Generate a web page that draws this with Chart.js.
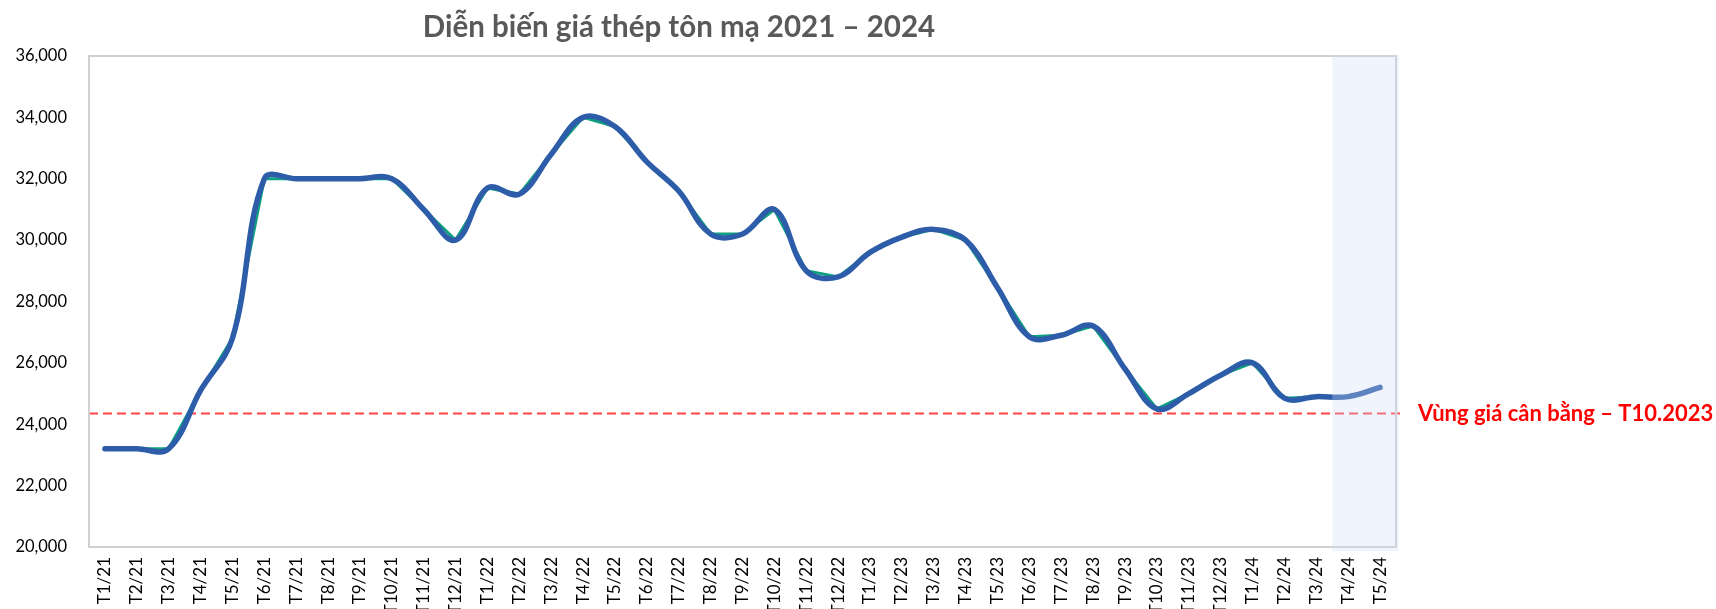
<!DOCTYPE html>
<html>
<head>
<meta charset="utf-8">
<script src="https://cdn.jsdelivr.net/npm/chart.js@4/dist/chart.umd.min.js"></script>
<style>
  html, body { margin: 0; padding: 0; background: #ffffff; }
  #wrap { width: 1716px; height: 609px; position: relative; }
</style>
</head>
<body>
<div id="wrap"><canvas id="c" width="1716" height="609"></canvas></div>
<script>
// ---- data ----
const categories = [
  'T1/21','T2/21','T3/21','T4/21','T5/21','T6/21','T7/21','T8/21','T9/21','T10/21','T11/21','T12/21',
  'T1/22','T2/22','T3/22','T4/22','T5/22','T6/22','T7/22','T8/22','T9/22','T10/22','T11/22','T12/22',
  'T1/23','T2/23','T3/23','T4/23','T5/23','T6/23','T7/23','T8/23','T9/23','T10/23','T11/23','T12/23',
  'T1/24','T2/24','T3/24','T4/24','T5/24'
];
const prices = [
  23200, 23200, 23200, 25100, 26800, 32000, 32000, 32000, 32000, 32000, 31000, 30000,
  31700, 31500, 32800, 34000, 33700, 32550, 31600, 30200, 30200, 31000, 29000, 28800,
  29600, 30100, 30350, 30000, 28450, 26850, 26900, 27200, 25800, 24500, 25000, 25600,
  26000, 24850, 24900, 24900, 25200
];
const yTicks = [20000, 22000, 24000, 26000, 28000, 30000, 32000, 34000, 36000];
const balanceValue = 24350;
const balanceLabel = 'Vùng giá cân bằng – T10.2023';
const titleText = 'Diễn biến giá thép tôn mạ 2021 – 2024';
const highlightFrom = 'T4/24';

const FONT = "Lato, 'Open Sans', sans-serif";

const decorPlugin = {
  id: 'decor',
  beforeDatasetsDraw(chart) {
    const {ctx, chartArea, scales} = chart;
    const y = scales.y.getPixelForValue(balanceValue);
    ctx.save();
    ctx.strokeStyle = '#FF4444';
    ctx.lineWidth = 1.8;
    ctx.setLineDash([9, 5]);
    ctx.beginPath();
    ctx.moveTo(chartArea.left, y);
    ctx.lineTo(chartArea.right + 4, y);
    ctx.stroke();
    ctx.restore();
  },
  afterDatasetsDraw(chart) {
    const {ctx, chartArea, scales} = chart;
    const x = scales.x;
    const idx = categories.indexOf(highlightFrom);
    const left = (x.getPixelForTick(idx - 1) + x.getPixelForTick(idx)) / 2;
    ctx.save();
    // plot border
    ctx.strokeStyle = '#D0D0D0';
    ctx.lineWidth = 2;
    ctx.strokeRect(chartArea.left, chartArea.top, chartArea.right - chartArea.left, chartArea.bottom - chartArea.top);
    // highlight band
    ctx.fillStyle = 'rgba(205, 218, 245, 0.3)';
    ctx.fillRect(left, chartArea.top - 1, chartArea.right + 3 - left, chartArea.bottom - chartArea.top + 5);
    ctx.restore();
  },
  afterDraw(chart) {
    const {ctx, chartArea, scales} = chart;
    const y = scales.y.getPixelForValue(balanceValue);
    ctx.save();
    ctx.fillStyle = '#FF0000';
    ctx.font = "bold 22px " + FONT;
    ctx.textAlign = 'left';
    ctx.textBaseline = 'middle';
    ctx.fillText(balanceLabel, chartArea.right + 22, y);
    ctx.fillStyle = '#595959';
    ctx.font = "bold 29.5px " + FONT;
    ctx.textAlign = 'center';
    ctx.fillText(titleText, 679, 27);
    ctx.restore();
  }
};

new Chart(document.getElementById('c'), {
  type: 'line',
  data: {
    labels: categories,
    datasets: [
      {
        label: 'Giá (làm mượt)',
        data: prices,
        borderColor: '#2D5DA9',
        borderWidth: 5.5,
        tension: 0.38,
        pointRadius: 0,
        borderCapStyle: 'round',
        borderJoinStyle: 'round',
        fill: false
      },
      {
        label: 'Giá',
        data: prices,
        borderColor: '#0FA07F',
        borderWidth: 3,
        tension: 0,
        pointRadius: 0,
        fill: false
      }
    ]
  },
  plugins: [decorPlugin],
  options: {
    responsive: false,
    animation: false,
    locale: 'en-US',
    layout: { padding: { top: 56, right: 320, bottom: 0, left: 0 } },
    plugins: {
      legend: { display: false },
      title: { display: false },
      tooltip: { enabled: false }
    },
    scales: {
      x: {
        offset: true,
        grid: { display: false, drawTicks: false },
        border: { display: false },
        afterFit(scale) { scale.height = 62; },
        ticks: {
          autoSkip: false,
          minRotation: 90,
          maxRotation: 90,
          padding: 10,
          color: '#000000',
          font: { family: FONT, size: 17 }
        }
      },
      y: {
        min: 20000,
        max: 36000,
        grid: { display: false, drawTicks: false },
        border: { display: false },
        afterFit(scale) { scale.width = 89; },
        afterBuildTicks(scale) { scale.ticks = yTicks.map(v => ({ value: v })); },
        ticks: {
          padding: 22,
          color: '#000000',
          font: { family: FONT, size: 16.5 },
          callback: (v) => v.toLocaleString('en-US')
        }
      }
    }
  }
});
</script>
</body>
</html>
